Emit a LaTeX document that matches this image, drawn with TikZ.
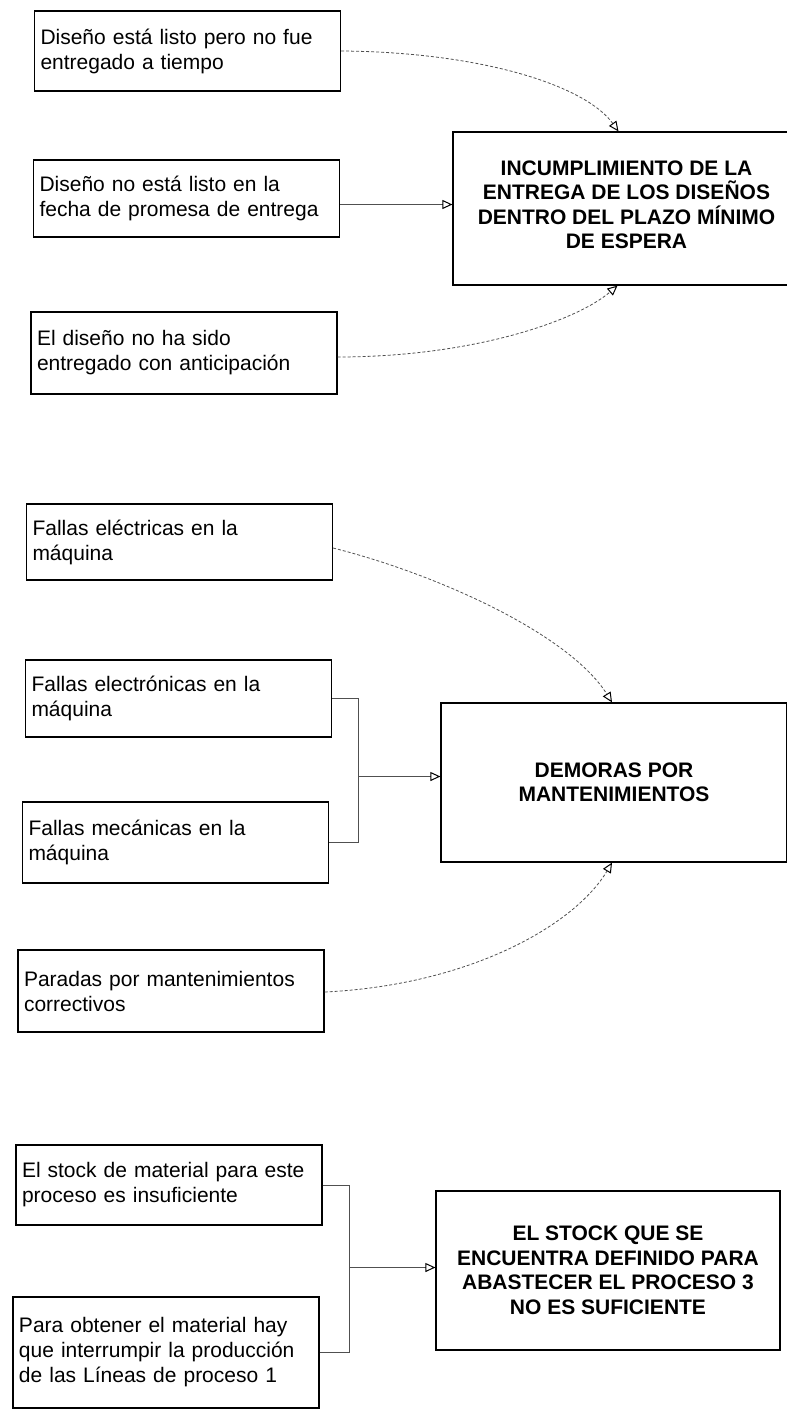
\documentclass[tikz,border=0pt]{standalone}
\usepackage{fontspec}
\setmainfont{Liberation Sans}
\usetikzlibrary{arrows.meta}
\definecolor{line-grey}{HTML}{505050}

\begin{document}
\begin{tikzpicture}[x=1pt, y=-1pt,
    causa/.style={draw, line width=1.2pt, text width=294pt, inner xsep=6pt,
          align=left, font=\fontsize{21}{25}\selectfont},
    efecto/.style={draw, line width=1.2pt, align=center,
          font=\bfseries\fontsize{21}{24.5}\selectfont},
    flecha/.style={-{Triangle[open, length=10pt, width=9pt, line width=1pt, color=black]},
          line width=0.8pt, color=line-grey},
    curva/.style={flecha, dash pattern=on 3pt off 2pt},
    enlace/.style={line width=0.8pt, color=line-grey}]
    \useasboundingbox (0,0) rectangle (787,1409);

    % bloque 1
    \node[causa, minimum height=80pt] (a1) at (187.5,51)
          {Diseño está listo pero no fue\\ entregado a tiempo};
    \node[causa, minimum height=77pt] (a2) at (186.5,198.5)
          {Diseño no está listo en la\\ fecha de promesa de entrega};
    \node[causa, minimum height=82pt] (a3) at (184,353)
          {El diseño no ha sido\\ entregado con anticipación};
    \node[efecto, minimum width=347pt, minimum height=153pt, text depth=8pt] (b1) at (626.5,208.5)
          {INCUMPLIMIENTO DE LA\\ ENTREGA DE LOS DISEÑOS\\ DENTRO DEL PLAZO MÍNIMO\\ DE ESPERA};
    \draw[curva] (a1.east) .. controls (480,52) and (585,85) .. ([xshift=-8pt]b1.north);
    \draw[flecha] ([yshift=-6pt]a2.east) -- ([yshift=-6pt]a2.east -| b1.west);
    \draw[curva] ([yshift=-4pt]a3.east) .. controls (470,357) and (575,322) .. ([xshift=-9pt]b1.south);

    % bloque 2
    \node[causa, minimum height=76pt] (a4) at (179.5,542)
          {Fallas eléctricas en la\\ máquina};
    \node[causa, minimum height=77pt] (a5) at (178.5,698.5)
          {Fallas electrónicas en la\\ máquina};
    \node[causa, minimum height=81pt] (a6) at (175.5,842.5)
          {Fallas mecánicas en la\\ máquina};
    \node[causa, minimum height=82pt] (a7) at (171,991)
          {Paradas por mantenimientos\\ correctivos};
    \node[efecto, minimum width=346pt, minimum height=159pt] (b2) at (614,782.5)
          {DEMORAS POR\\ MANTENIMIENTOS};
    \draw[curva] ([yshift=-6pt]a4.east) .. controls (440,575) and (570,635) .. ([xshift=-2pt]b2.north);
    \draw[enlace] (a5.east) -- ++(26,0) coordinate (j1) |- (a6.east);
    \coordinate (m2) at ([yshift=6pt]b2.west);
    \draw[flecha] (j1 |- m2) -- (m2);
    \draw[curva] ([yshift=-1pt]a7.east) .. controls (470,985) and (575,925) .. ([xshift=-2pt]b2.south);

    % bloque 3
    \node[causa, minimum height=80pt] (a8) at (169,1185)
          {El stock de material para este\\ proceso es insuficiente};
    \node[causa, minimum height=111pt] (a9) at (166,1352.5)
          {Para obtener el material hay\\ que interrumpir la producción\\ de las Líneas de proceso 1};
    \node[efecto, minimum width=344pt, minimum height=159pt] (b3) at (608,1270.5)
          {EL STOCK QUE SE\\ ENCUENTRA DEFINIDO PARA\\ ABASTECER EL PROCESO 3\\ NO ES SUFICIENTE};
    \draw[enlace] (a8.east) -- ++(27,0) coordinate (j2) |- (a9.east);
    \coordinate (m3) at ([yshift=3pt]b3.west);
    \draw[flecha] (j2 |- m3) -- (m3);
\end{tikzpicture}
\end{document}
